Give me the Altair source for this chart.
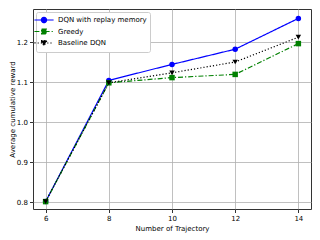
import altair as alt
import pandas as pd

trajectories = [6, 8, 10, 12, 14]
dqn_replay = [0.801, 1.104, 1.144, 1.182, 1.259]
greedy = [0.801, 1.098, 1.111, 1.119, 1.196]
baseline = [0.801, 1.098, 1.123, 1.150, 1.212]

series_names = ["DQN with replay memory", "Greedy", "Baseline DQN"]
colors = ["#0000ff", "#008000", "#000000"]
markers = ["circle", "square", "triangle-down"]
dashes = [[1, 0], [5, 2, 1.2, 2], [1.2, 2]]
legend_symbols = [
    "M-2.4,0H2.4M-0.65,0A0.65,0.65,0,1,0,0.65,0A0.65,0.65,0,1,0,-0.65,0Z",
    "M-2.4,0H2.4M-0.6,-0.6H0.6V0.6H-0.6Z",
    "M-2.4,0H2.4M-0.75,-0.6H0.75L0,0.7Z",
]

rows = []
for name, vals, mk in zip(series_names, [dqn_replay, greedy, baseline], markers):
    for t, v in zip(trajectories, vals):
        rows.append({"traj": t, "reward": v, "series": name, "marker": mk})
df = pd.DataFrame(rows)

x = alt.X("traj:Q", scale=alt.Scale(domain=[5.6, 14.4], nice=False, zero=False),
          axis=alt.Axis(values=trajectories, title="Number of Trajectory", titlePadding=3))
y = alt.Y("reward:Q", scale=alt.Scale(domain=[0.7825, 1.2825], nice=False, zero=False),
          axis=alt.Axis(values=[0.8, 0.9, 1.0, 1.1, 1.2], format=".1f",
                        title="Average cumulative reward", titlePadding=1))

cscale = alt.Scale(domain=series_names, range=colors)
dscale = alt.Scale(domain=series_names, range=dashes)

lines = alt.Chart(df).mark_line(strokeWidth=1.2).encode(
    x=x, y=y,
    color=alt.Color("series:N", scale=cscale, legend=None),
    strokeDash=alt.StrokeDash("series:N", scale=dscale, legend=None),
    detail="series:N",
)

points = alt.Chart(df).mark_point(filled=True, size=30, opacity=1).encode(
    x=x, y=y,
    color=alt.Color("series:N", scale=cscale, legend=None),
    shape=alt.Shape("marker:N", scale=None),
)

legend_layer = alt.Chart(df).mark_point(filled=True, opacity=0).encode(
    x=x, y=y,
    fill=alt.Fill("series:N", scale=cscale, legend=alt.Legend(title=None)),
    stroke=alt.Stroke("series:N", scale=cscale, legend=alt.Legend(title=None)),
    shape=alt.Shape("series:N", scale=alt.Scale(domain=series_names, range=legend_symbols),
                    legend=alt.Legend(title=None)),
    strokeDash=alt.StrokeDash("series:N", scale=dscale, legend=alt.Legend(title=None)),
)

chart = alt.layer(lines, points, legend_layer).resolve_scale(
    color="independent", strokeDash="independent", shape="independent",
    fill="independent", stroke="independent",
).properties(
    width=278, height=200,
    autosize=alt.AutoSizeParams(type="none"),
    padding={"left": 25, "top": 1, "right": 1, "bottom": 24},
).configure_view(
    stroke="#333333", strokeWidth=1
).configure_axis(
    grid=True, gridColor="#b0b0b0", gridWidth=0.8, domain=False,
    tickColor="#333333", tickSize=3.5, labelPadding=2,
    labelFont="DejaVu Sans", labelFontSize=7, labelColor="#000000",
    titleFont="DejaVu Sans", titleFontSize=7, titleFontWeight="normal", titleColor="#000000",
).configure_legend(
    orient="top-left", offset=3, fillColor="white", strokeColor="#cccccc",
    cornerRadius=2, padding=3, labelFont="DejaVu Sans", labelFontSize=7,
    labelColor="#000000", symbolSize=64, symbolStrokeWidth=1.2, symbolOpacity=1,
    labelOffset=9, rowPadding=1.5,
)

chart.save("out.html", embed_options={"renderer": "svg", "actions": False})
